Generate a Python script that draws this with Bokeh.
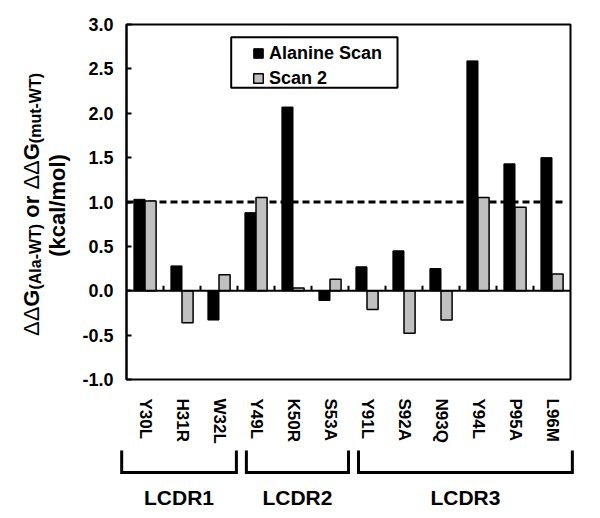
import numpy as np
from bokeh.plotting import figure
from bokeh.models import (ColumnDataSource, Range1d, FixedTicker, PrintfTickFormatter,
                          Label, Legend, LegendItem, BoxAnnotation, LinearAxis)
from bokeh.transform import dodge
from bokeh.embed import file_html
from bokeh.resources import INLINE

# ---------------- data ----------------
categories = ["Y30L", "H31R", "W32L", "Y49L", "K50R", "S53A",
              "Y91L", "S92A", "N93Q", "Y94L", "P95A", "L96M"]
alanine_scan = [1.03, 0.28, -0.33, 0.88, 2.07, -0.11, 0.27, 0.45, 0.25, 2.59, 1.43, 1.50]
scan_2 = [1.01, -0.36, 0.18, 1.05, 0.03, 0.13, -0.21, -0.48, -0.33, 1.05, 0.94, 0.19]
groups = ["LCDR1", "LCDR2", "LCDR3"]
group_sizes = [3, 3, 6]
y_ticks = [-1.0, -0.5, 0.0, 0.5, 1.0, 1.5, 2.0, 2.5, 3.0]
threshold = 1.0
series_names = ["Alanine Scan", "Scan 2"]

# ---------------- layout ----------------
FONT = "Liberation Sans"
W, H = 600, 518
PL, PR, PT, PB = 126, 570, 24, 379       # inner plot box in page px
Y0, Y1 = -1.0, 3.0
ncat = len(categories)
XA, XB = -0.5, ncat - 0.5
sx = (PR - PL) / (XB - XA)
sy = (PB - PT) / (Y1 - Y0)

def X(px):  # page px -> data x
    return XA + (px - PL) / sx

def Y(py):  # page py -> data y
    return Y1 - (py - PT) / sy

p = figure(x_range=Range1d(X(0), X(W)), y_range=Range1d(Y(H), Y(0)), width=W, height=H,
           output_backend="svg", toolbar_location=None, title=None,
           x_axis_location=None, y_axis_location=None, min_border=0)
p.xgrid.grid_line_color = None
p.ygrid.grid_line_color = None
p.outline_line_color = None
p.background_fill_color = "white"
p.border_fill_color = "white"

xpos = list(range(ncat))
bounds = [i + 0.5 for i in range(ncat - 1)]

def style_labels(ax, size):
    ax.major_label_text_font = FONT
    ax.major_label_text_font_style = "bold"
    ax.major_label_text_font_size = size
    ax.major_label_text_color = "black"

# y axis
yax = LinearAxis(fixed_location=XA, bounds=(Y0, Y1), ticker=FixedTicker(ticks=y_ticks),
                 formatter=PrintfTickFormatter(format="%.1f"),
                 major_tick_in=5, major_tick_out=0, minor_tick_line_color=None,
                 major_tick_line_width=2, axis_line_width=2, major_label_standoff=13)
style_labels(yax, "18px")
p.add_layout(yax, "left")

# category label axis at the bottom of the box
xax = LinearAxis(fixed_location=Y0, bounds=(XA, XB), ticker=FixedTicker(ticks=xpos),
                 major_label_overrides={i: c for i, c in enumerate(categories)},
                 major_label_orientation="vertical", axis_line_color=None,
                 major_tick_line_color=None, minor_tick_line_color=None,
                 major_label_standoff=13)
style_labels(xax, "17px")
p.add_layout(xax, "below")

# plot box
p.add_layout(BoxAnnotation(left=XA, right=XB, bottom=Y0, top=Y1, fill_alpha=0.0,
                           line_color="black", line_width=2, line_alpha=1.0))

# threshold dashed line (behind bars)
p.segment(x0=[XA], y0=[threshold], x1=[X(565)], y1=[threshold], line_color="black",
          line_width=3, line_dash="7 4")

src = ColumnDataSource(dict(x=xpos, a=alanine_scan, b=scan_2))
r1 = p.vbar(x=dodge("x", -0.15), top="a", bottom=0, width=0.3, source=src,
            fill_color="black", line_color="black", line_width=1)
r2 = p.vbar(x=dodge("x", 0.15), top="b", bottom=0, width=0.3, source=src,
            fill_color="#c0c0c0", line_color="black", line_width=1.5)

# zero line with category boundary ticks
p.segment(x0=[XA], y0=[0], x1=[XB], y1=[0], line_color="black", line_width=2)
p.segment(x0=bounds, y0=[0] * len(bounds), x1=bounds, y1=[5 / sy] * len(bounds),
          line_color="black", line_width=2)

# legend with separate frame
p.add_layout(BoxAnnotation(left=X(230.7), right=X(397), top=Y(36.7), bottom=Y(87.3),
                           fill_color="white", fill_alpha=1.0, line_color="black",
                           line_width=2, line_alpha=1.0))
legend = Legend(items=[LegendItem(label=series_names[0], renderers=[r1]),
                       LegendItem(label=series_names[1], renderers=[r2])],
                location=(252, H - 88.7), padding=4, spacing=4,
                glyph_width=12, glyph_height=12, label_height=20, label_standoff=5,
                border_line_color=None, background_fill_alpha=0.0,
                label_text_font=FONT, label_text_font_style="bold",
                label_text_font_size="18px", label_text_color="black")
p.add_layout(legend)

# group brackets
left_pad = [-0.13, 0.24, 0.27]
right_pad = [-0.03, 0.0, 0.05]
starts = np.cumsum([0] + group_sizes[:-1]) + XA
ends = np.cumsum(group_sizes) + XA
yt, yb = Y(450), Y(472)
bx, by, centers = [], [], []
for i, (s, e) in enumerate(zip(starts, ends)):
    xl, xr = float(s + left_pad[i]), float(e + right_pad[i])
    bx.append([xl, xl, xr, xr])
    by.append([yt, yb, yb, yt])
    centers.append((xl + xr) / 2)
p.multi_line(xs=bx, ys=by, line_color="black", line_width=3, line_join="miter")
for g, c in zip(groups, centers):
    p.add_layout(Label(x=c, y=Y(497), text=g, text_align="center", text_baseline="middle",
                       text_font=FONT, text_font_style="bold", text_font_size="21px",
                       text_color="black"))

# y-axis title built from pieces (rotated, reading upward)
CW = {"Δ": 0.667, "G": 0.778, "(": 0.333, ")": 0.333, "A": 0.722, "l": 0.278, "a": 0.556,
      "-": 0.333, "W": 0.944, "T": 0.611, "m": 0.889, "u": 0.611, "t": 0.333, " ": 0.278,
      "o": 0.611, "r": 0.389}
F_MAIN, F_SUB = 22, 16
GAP = 0.278 * F_MAIN
BASE1, BASE_SUB, BASE2 = 31, 35, 57
# (text, size, style, baseline x, gap before, gap after)
pieces = [("ΔΔ", F_MAIN, "normal", BASE1, 0, 0), ("G", F_MAIN, "bold", BASE1, 0, 0),
          ("(Ala-WT)", F_SUB, "bold", BASE_SUB, 0, 0), ("or", F_MAIN, "bold", BASE1, GAP, GAP),
          ("ΔΔ", F_MAIN, "normal", BASE1, 0, 0), ("G", F_MAIN, "bold", BASE1, 0, 0),
          ("(mut-WT)", F_SUB, "bold", BASE_SUB, 0, 0)]
widths = [sum(CW[ch] for ch in t) * f + g0 + g1 for t, f, _, _, g0, g1 in pieces]
py = 204 + sum(widths) / 2
for (t, f, st, bxp, g0, g1), w in zip(pieces, widths):
    p.add_layout(Label(x=X(bxp), y=Y(py - g0), text=t, angle=np.pi / 2, text_align="left",
                       text_baseline="alphabetic", text_font=FONT, text_font_style=st,
                       text_font_size=f"{f}px", text_color="black"))
    py -= w
p.add_layout(Label(x=X(BASE2), y=Y(205), text="(kcal/mol)", angle=np.pi / 2, text_align="center",
                   text_baseline="alphabetic", text_font=FONT, text_font_style="bold",
                   text_font_size="22px", text_color="black"))

open("out.html", "w").write(file_html(p, INLINE))
